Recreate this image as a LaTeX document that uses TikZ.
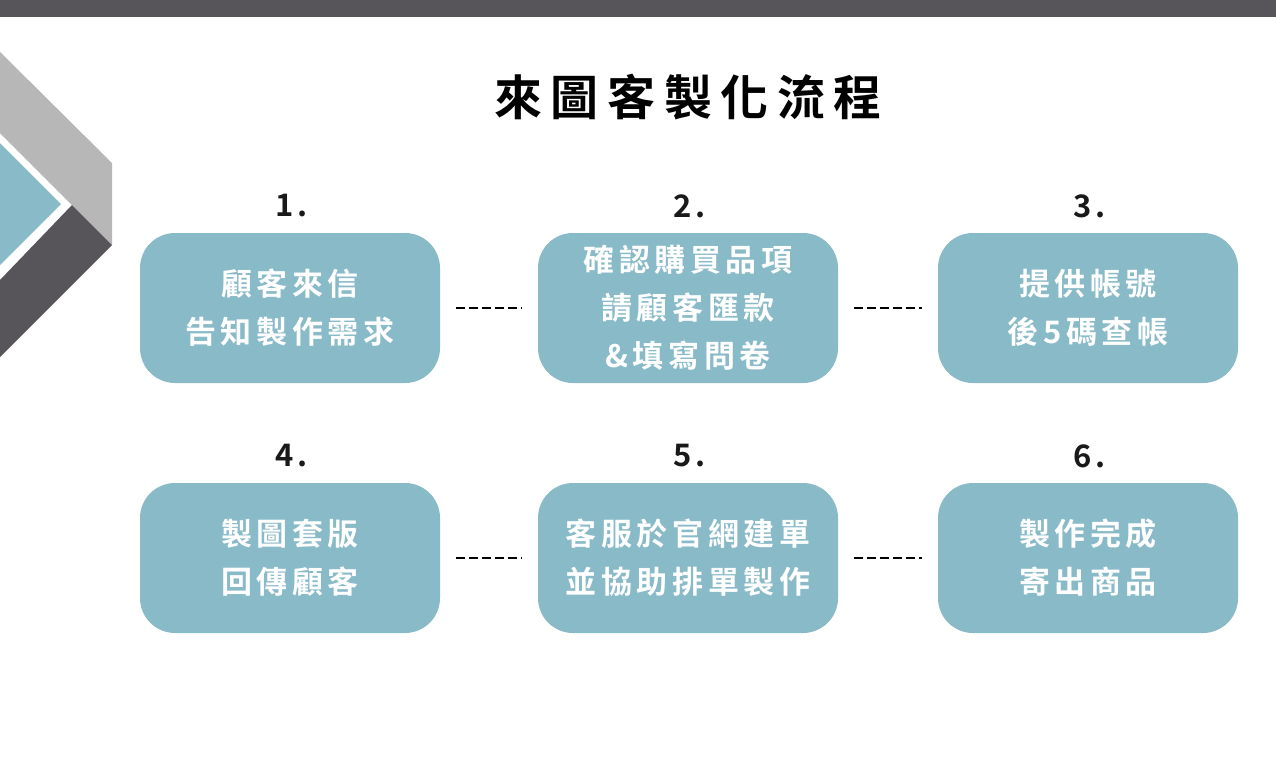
\documentclass[tikz,border=0pt]{standalone}
\usepackage{fontspec}
\newfontfamily\cjkwide{Noto Sans CJK TC}[BoldFont={* Bold}, LetterSpace=15]
\newfontfamily\cjktitle{Noto Sans CJK TC}[BoldFont={* Bold}, LetterSpace=18]
\newfontfamily\cjknum{Noto Sans CJK TC}[BoldFont={* Bold}, LetterSpace=12]
\definecolor{boxteal}{HTML}{88BAC8}
\definecolor{bardark}{HTML}{57545A}
\definecolor{bandlight}{HTML}{B7B7B7}
\tikzset{
  step box/.style={draw=none, fill=boxteal, rounded corners=35pt, minimum width=300pt,
    minimum height=150pt, text=white, align=center, font=\cjkwide\bfseries\fontsize{31}{48}\selectfont},
  step num/.style={font=\cjknum\bfseries\fontsize{31}{32}\selectfont, text=black!90},
  link/.style={line width=1.6pt, dash pattern=on 9pt off 4pt, shorten >=16pt, shorten <=16pt}
}
\begin{document}
\begin{tikzpicture}[x=1pt,y=-1pt]
  \useasboundingbox (0,0) rectangle (1276,765);
  \fill[white] (0,0) rectangle (1276,765);
  % top bar and chevron
  \fill[bardark] (0,0) rectangle (1276,17);
  \fill[bandlight] (0,52) -- (112,163) -- (112,245) -- (72,205) -- (0,133) -- cycle;
  \fill[bardark] (72,205) -- (112,245) -- (0,357) -- (0,280) -- cycle;
  \fill[boxteal] (0,143) -- (61,204) -- (0,265) -- cycle;
  \node[font=\cjktitle\bfseries\fontsize{48}{50}\selectfont] (title) at (688,97) {來圖客製化流程};
  % steps
  \draw
    (290,308) node[step box] (s1){顧客來信\\告知製作需求}
    (688,308) node[step box] (s2){確認購買品項\\請顧客匯款\\\&填寫問卷}
    (1088,308) node[step box] (s3){提供帳號\\後5碼查帳}
    (290,558) node[step box] (s4){製圖套版\\回傳顧客}
    (688,558) node[step box] (s5){客服於官網建單\\並協助排單製作}
    (1088,558) node[step box] (s6){製作完成\\寄出商品};
  \draw
    (292,206) node[step num] (n1){1.}
    (690,206) node[step num] (n2){2.}
    (1090,206) node[step num] (n3){3.}
    (292,456) node[step num] (n4){4.}
    (690,456) node[step num] (n5){5.}
    (1090,456) node[step num] (n6){6.};
  \begin{scope}[link]
    \draw (s1) to (s2);
    \draw (s2) to (s3);
    \draw (s4) to (s5);
    \draw (s5) to (s6);
  \end{scope}
\end{tikzpicture}
\end{document}
